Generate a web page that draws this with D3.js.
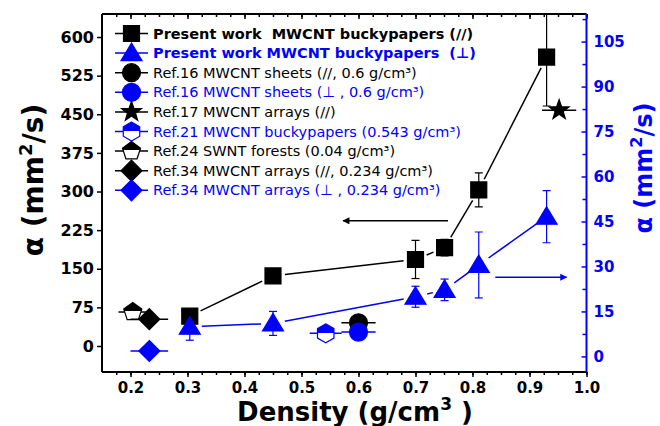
<!DOCTYPE html>
<html><head><meta charset="utf-8">
<script src="https://cdn.jsdelivr.net/npm/d3@7"></script>
<style>body{margin:0;background:#fff;} svg{display:block;}</style>
</head><body><svg id="c" width="660" height="426"></svg>
<script>
// ---------- data ----------
const xDomain = [0.15, 1.0];
const leftDomain = [-50.5, 644.7];
const rightDomain = [-5.2, 114.2];
const xTicks = [0.2, 0.3, 0.4, 0.5, 0.6, 0.7, 0.8, 0.9, 1.0];
const leftTicks = [0, 75, 150, 225, 300, 375, 450, 525, 600];
const rightTicks = [0, 15, 30, 45, 60, 75, 90, 105];

const presentX = [0.304, 0.45, 0.70, 0.751, 0.811, 0.93];
const presentParY = [58, 136, 168, 191, 303, 561];
const presentParErr = [0, 0, 37, 16, 33, 95];
const presentPerpY = [9.9, 11, 19.9, 22.2, 30.5, 46.6];
const presentPerpErr = [4.5, 4, 3.5, 3.6, 11, 8.7];

const ref16ParX = [0.6], ref16ParY = [45], ref16ParXErr = [0.03];
const ref16PerpX = [0.6], ref16PerpY = [8.1], ref16PerpXErr = [0.03];
const ref17X = [0.952], ref17Y = [458], ref17XErr = [0.03];
const ref21X = [0.5425], ref21Y = [7.7], ref21XErr = [0.028];
const ref24X = [0.204], ref24Y = [66], ref24XErr = [0.025];
const ref34ParX = [0.233], ref34ParY = [52], ref34ParXErr = [0.033];
const ref34PerpX = [0.233], ref34PerpY = [1.8], ref34PerpXErr = [0.033];

const arrowLeft = {x: [0.757, 0.573], y: 243};
const arrowRight = {x: [0.84, 0.965], y: 26.4};

const legendLabels = [
  "Present work  MWCNT buckypapers (//)",
  "Present work MWCNT buckypapers  (\u22A5)",
  "Ref.16 MWCNT sheets (//, 0.6 g/cm\u00B3)",
  "Ref.16 MWCNT sheets (\u22A5 , 0.6 g/cm\u00B3)",
  "Ref.17 MWCNT arrays (//)",
  "Ref.21 MWCNT buckypapers (0.543 g/cm\u00B3)",
  "Ref.24 SWNT forests (0.04 g/cm\u00B3)",
  "Ref.34 MWCNT arrays (//, 0.234 g/cm\u00B3)",
  "Ref.34 MWCNT arrays (\u22A5 , 0.234 g/cm\u00B3)"
];

// ---------- styles ----------
const BLACK = "#000", BLUE = "#0000ff";
const FONT = "DejaVu Sans, Verdana, sans-serif";
const M = {left: 102, right: 586.5, top: 14, bottom: 372};

const svg = d3.select("#c");
const x = d3.scaleLinear().domain(xDomain).range([M.left, M.right]);
const yL = d3.scaleLinear().domain(leftDomain).range([M.bottom, M.top]);
const yR = d3.scaleLinear().domain(rightDomain).range([M.bottom, M.top]);

const defs = svg.append("defs");
defs.append("clipPath").attr("id", "plotclip").append("rect")
  .attr("x", M.left).attr("y", M.top).attr("width", M.right - M.left).attr("height", M.bottom - M.top);
function halfGrad(id, col) {
  const g = defs.append("linearGradient").attr("id", id).attr("x1", 0).attr("y1", 0).attr("x2", 0).attr("y2", 1);
  g.append("stop").attr("offset", "0.5").attr("stop-color", col);
  g.append("stop").attr("offset", "0.5").attr("stop-color", "#fff");
}
halfGrad("hb", BLACK); halfGrad("hblue", BLUE);

// ---------- shapes ----------
function poly(pts) { return "M" + pts.map(p => p[0].toFixed(2) + "," + p[1].toFixed(2)).join("L") + "Z"; }
function regular(n, r, rot) {
  const pts = [];
  for (let i = 0; i < n; i++) { const a = rot + i * 2 * Math.PI / n; pts.push([r * Math.cos(a), r * Math.sin(a)]); }
  return poly(pts);
}
const shapes = {
  square: () => poly([[-8, -8], [8, -8], [8, 8], [-8, 8]]),
  triangle: () => poly([[0, -10], [10.5, 7.5], [-10.5, 7.5]]),
  circle: () => "M9,0A9,9 0 1,1 -9,0A9,9 0 1,1 9,0Z",
  diamond: () => poly([[0, -10.5], [10.5, 0], [0, 10.5], [-10.5, 0]]),
  star: () => {
    const pts = [];
    for (let i = 0; i < 10; i++) { const r = i % 2 ? 4.2 : 10.5; const a = -Math.PI / 2 + i * Math.PI / 5; pts.push([r * Math.cos(a), r * Math.sin(a)]); }
    return poly(pts);
  },
  pentagon: () => regular(5, 9.5, -Math.PI / 2),
  hexagon: () => regular(6, 9.5, -Math.PI / 2)
};

function drawMarker(g, shape, px, py, fill, stroke) {
  g.append("path").attr("d", shapes[shape]()).attr("transform", `translate(${px},${py})`)
    .attr("fill", fill).attr("stroke", stroke).attr("stroke-width", 1.2);
}

// ---------- axes ----------
const axG = svg.append("g");
const xMinor = d3.range(0.175, 1.0001, 0.025);
axG.append("g").attr("transform", `translate(0,${M.bottom})`)
  .call(d3.axisBottom(x).tickValues(xMinor).tickSize(3).tickFormat(""))
  .call(g => g.select(".domain").remove())
  .selectAll("line").attr("stroke", BLACK).attr("stroke-width", 1.5);
axG.append("g").attr("transform", `translate(0,${M.bottom})`)
  .call(d3.axisBottom(x).tickValues(xTicks).tickSize(5).tickPadding(5).tickFormat(d3.format(".1f")))
  .call(g => g.select(".domain").remove())
  .call(g => g.selectAll("line").attr("stroke", BLACK).attr("stroke-width", 1.5))
  .call(g => g.selectAll("text").attr("font-family", FONT).attr("font-weight", "bold").attr("font-size", 15).attr("fill", BLACK));
axG.append("g").attr("transform", `translate(0,${M.top})`)
  .call(d3.axisBottom(x).tickValues(xMinor).tickSize(3).tickFormat(""))
  .call(g => g.select(".domain").remove())
  .selectAll("line").attr("stroke", BLACK).attr("stroke-width", 1.5);
axG.append("g").attr("transform", `translate(0,${M.top})`)
  .call(d3.axisBottom(x).tickValues(xTicks).tickSize(5).tickFormat(""))
  .call(g => g.select(".domain").remove())
  .selectAll("line").attr("stroke", BLACK).attr("stroke-width", 1.5);
axG.append("g").attr("transform", `translate(${M.left},0)`)
  .call(d3.axisLeft(yL).tickValues(leftTicks).tickSize(5).tickPadding(3))
  .call(g => g.select(".domain").remove())
  .call(g => g.selectAll("line").attr("stroke", BLACK).attr("stroke-width", 1.5))
  .call(g => g.selectAll("text").attr("font-family", FONT).attr("font-weight", "bold").attr("font-size", 16).attr("fill", BLACK));
const rMinor = d3.range(7.5, 114, 15);
axG.append("g").attr("transform", `translate(${M.right},0)`)
  .call(d3.axisLeft(yR).tickValues(rMinor).tickSize(4).tickFormat(""))
  .call(g => g.select(".domain").remove())
  .selectAll("line").attr("stroke", BLUE).attr("stroke-width", 1.5);
axG.append("g").attr("transform", `translate(${M.right},0)`)
  .call(d3.axisRight(yR).tickValues(rightTicks).tickSize(0).tickPadding(7))
  .call(g => g.select(".domain").remove())
  .call(g => g.selectAll("text").attr("font-family", FONT).attr("font-weight", "bold").attr("font-size", 15).attr("fill", BLUE));
axG.append("g").attr("transform", `translate(${M.right},0)`)
  .call(d3.axisLeft(yR).tickValues(rightTicks).tickSize(5).tickFormat(""))
  .call(g => g.select(".domain").remove())
  .selectAll("line").attr("stroke", BLUE).attr("stroke-width", 1.5);
axG.append("line").attr("x1", M.left).attr("x2", M.right).attr("y1", M.top).attr("y2", M.top).attr("stroke", BLACK).attr("stroke-width", 2);
axG.append("line").attr("x1", M.left).attr("x2", M.right).attr("y1", M.bottom).attr("y2", M.bottom).attr("stroke", BLACK).attr("stroke-width", 2);
axG.append("line").attr("x1", M.left).attr("x2", M.left).attr("y1", M.top).attr("y2", M.bottom).attr("stroke", BLACK).attr("stroke-width", 2);
axG.append("line").attr("x1", M.right).attr("x2", M.right).attr("y1", M.top).attr("y2", M.bottom).attr("stroke", BLUE).attr("stroke-width", 2);

// axis titles
const lt = svg.append("text").attr("transform", `translate(43,180) rotate(-90)`).attr("text-anchor", "middle")
  .attr("font-family", FONT).attr("font-weight", "bold").attr("font-size", 28).attr("fill", BLACK);
lt.append("tspan").text("\u03B1 (mm");
lt.append("tspan").attr("dy", -11).attr("font-size", 18).text("2");
lt.append("tspan").attr("dy", 11).text("/s)");
const rt = svg.append("text").attr("transform", `translate(652,168) rotate(-90)`).attr("text-anchor", "middle")
  .attr("font-family", FONT).attr("font-weight", "bold").attr("font-size", 24).attr("fill", BLUE);
rt.append("tspan").text("\u03B1 (mm");
rt.append("tspan").attr("dy", -10).attr("font-size", 16).text("2");
rt.append("tspan").attr("dy", 10).text("/s)");
const xt = svg.append("text").attr("x", 355).attr("y", 421).attr("text-anchor", "middle")
  .attr("font-family", FONT).attr("font-weight", "bold").attr("font-size", 26).attr("fill", BLACK);
xt.append("tspan").text("Density (g/cm");
xt.append("tspan").attr("dy", -11).attr("font-size", 17).text("3");
xt.append("tspan").attr("dy", 11).text(" )");

// ---------- plot ----------
const plot = svg.append("g").attr("clip-path", "url(#plotclip)");

function gapLine(g, xs, ys, yScale, col, gap) {
  for (let i = 0; i < xs.length - 1; i++) {
    const x1 = x(xs[i]), y1 = yScale(ys[i]), x2 = x(xs[i + 1]), y2 = yScale(ys[i + 1]);
    const L = Math.hypot(x2 - x1, y2 - y1);
    if (L <= 2 * gap) continue;
    const ux = (x2 - x1) / L, uy = (y2 - y1) / L;
    g.append("line").attr("x1", x1 + ux * gap).attr("y1", y1 + uy * gap)
      .attr("x2", x2 - ux * gap).attr("y2", y2 - uy * gap)
      .attr("stroke", col).attr("stroke-width", 1.5);
  }
}
gapLine(plot, presentX, presentParY, yL, BLACK, 12);
gapLine(plot, presentX, presentPerpY, yR, BLUE, 12);

function vErr(g, xs, ys, errs, yScale, col) {
  xs.forEach((xv, i) => {
    if (!errs[i]) return;
    const px = x(xv), top = yScale(ys[i] + errs[i]), bot = yScale(ys[i] - errs[i]);
    g.append("line").attr("x1", px).attr("x2", px).attr("y1", top).attr("y2", bot).attr("stroke", col).attr("stroke-width", 1.2);
    [top, bot].forEach(yy => g.append("line").attr("x1", px - 4).attr("x2", px + 4).attr("y1", yy).attr("y2", yy).attr("stroke", col).attr("stroke-width", 1.2));
  });
}
function hErr(g, xs, ys, errs, yScale, col) {
  xs.forEach((xv, i) => {
    const py = yScale(ys[i]);
    g.append("line").attr("x1", x(xv - errs[i])).attr("x2", x(xv + errs[i])).attr("y1", py).attr("y2", py)
      .attr("stroke", col).attr("stroke-width", 1.5);
  });
}
vErr(plot, presentX, presentParY, presentParErr, yL, BLACK);
vErr(plot, presentX, presentPerpY, presentPerpErr, yR, BLUE);

function series(xs, ys, xerrs, yScale, col, shape, fill) {
  if (xerrs) hErr(plot, xs, ys, xerrs, yScale, col);
  xs.forEach((xv, i) => drawMarker(plot, shape, x(xv), yScale(ys[i]), fill, col));
}
series(ref24X, ref24Y, ref24XErr, yL, BLACK, "pentagon", "url(#hb)");
series(ref34ParX, ref34ParY, ref34ParXErr, yL, BLACK, "diamond", BLACK);
series(ref34PerpX, ref34PerpY, ref34PerpXErr, yR, BLUE, "diamond", BLUE);
series(ref21X, ref21Y, ref21XErr, yR, BLUE, "hexagon", "url(#hblue)");
series(ref16ParX, ref16ParY, ref16ParXErr, yL, BLACK, "circle", BLACK);
series(ref16PerpX, ref16PerpY, ref16PerpXErr, yR, BLUE, "circle", BLUE);
series(ref17X, ref17Y, ref17XErr, yL, BLACK, "star", BLACK);
series(presentX, presentParY, null, yL, BLACK, "square", BLACK);
series(presentX, presentPerpY, null, yR, BLUE, "triangle", BLUE);

// arrows
function arrow(a, yScale, col, id) {
  const m = defs.append("marker").attr("id", id).attr("viewBox", "0 0 10 10").attr("refX", 9).attr("refY", 5)
    .attr("markerWidth", 9).attr("markerHeight", 7).attr("markerUnits", "userSpaceOnUse").attr("orient", "auto");
  m.append("path").attr("d", "M0,0L10,5L0,10Z").attr("fill", col);
  svg.append("line").attr("x1", x(a.x[0])).attr("x2", x(a.x[1])).attr("y1", yScale(a.y)).attr("y2", yScale(a.y))
    .attr("stroke", col).attr("stroke-width", 1.5).attr("marker-end", `url(#${id})`);
}
arrow(arrowLeft, yL, BLACK, "ab");
arrow(arrowRight, yR, BLUE, "abl");

// ---------- legend ----------
const legendColors = [BLACK, BLUE, BLACK, BLUE, BLACK, BLUE, BLACK, BLACK, BLUE];
const legendShapes = ["square", "triangle", "circle", "circle", "star", "hexagon", "pentagon", "diamond", "diamond"];
const legendFills = [BLACK, BLUE, BLACK, BLUE, BLACK, "url(#hblue)", "url(#hb)", BLACK, BLUE];
const legendBold = [true, true, false, false, false, false, false, false, false];
const lg = svg.append("g");
legendLabels.forEach((lab, i) => {
  const cy = 33.5 + i * 19.6, cx = 131.5, col = legendColors[i];
  lg.append("line").attr("x1", 115).attr("x2", 148).attr("y1", cy).attr("y2", cy).attr("stroke", col).attr("stroke-width", 1.5);
  drawMarker(lg, legendShapes[i], cx, cy, legendFills[i], col);
  lg.append("text").attr("x", 153).attr("y", cy + 5).attr("font-family", FONT).attr("font-size", 14.5)
    .attr("font-weight", legendBold[i] ? "bold" : "normal").attr("fill", col).attr("xml:space", "preserve")
    .style("white-space", "pre").text(lab);
});
</script></body></html>
